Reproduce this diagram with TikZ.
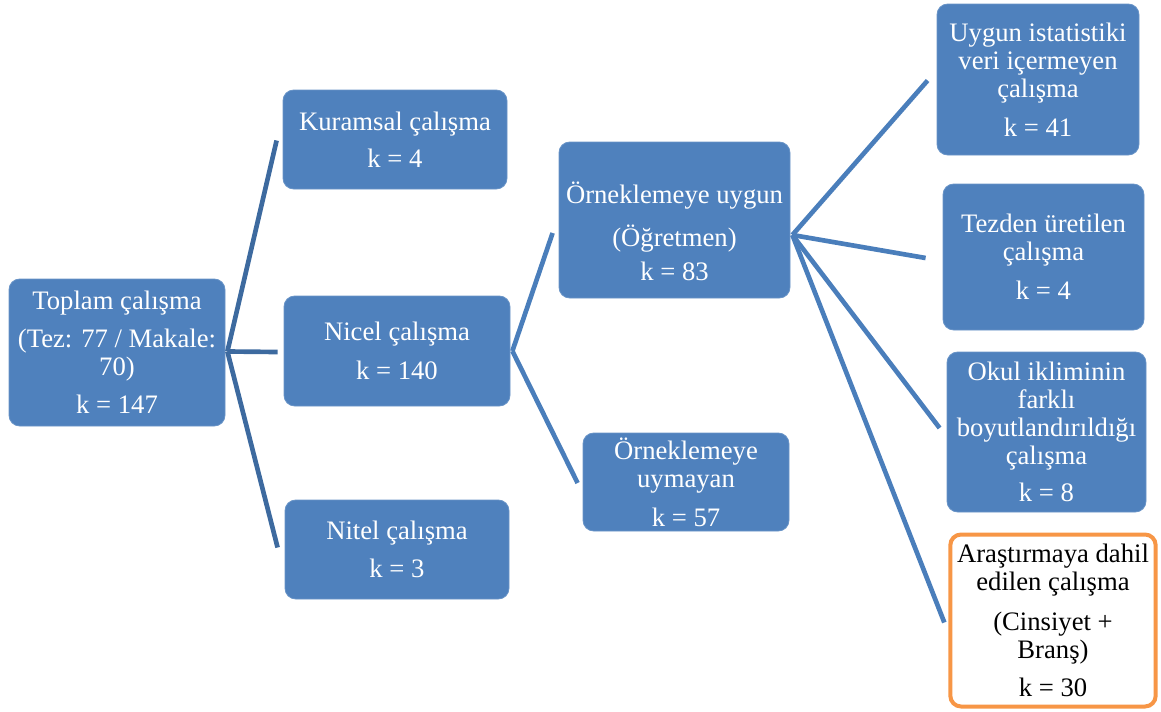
\documentclass[tikz,border=0pt]{standalone}
\usepackage{fontspec}
\setmainfont{Liberation Serif}
\usetikzlibrary{calc}
\definecolor{boxblue}{HTML}{4F81BD}
\definecolor{lineblue}{HTML}{4A7EBB}
\definecolor{darkline}{HTML}{3D6A9F}
\definecolor{orng}{HTML}{F79646}
\begin{document}
\begin{tikzpicture}[x=0.75pt,y=-0.75pt,
  box/.style={rectangle, rounded corners=8pt, fill=boxblue, draw=boxblue!85!white, line width=0.6pt,
    text=white, align=center, font=\fontsize{20}{21}\selectfont, inner sep=0pt},
  boxtext/.style={text=white, align=center, font=\fontsize{20}{21}\selectfont, inner sep=0pt},
  obox/.style={box, fill=white, draw=orng, line width=3pt, text=black},
  conn/.style={draw=lineblue, line width=3.5pt},
  dconn/.style={draw=darkline, line width=3.5pt}]
\useasboundingbox (0,0) rectangle (1161,711);

\node[box, minimum width=162pt, minimum height=110.25pt] (top) at (117,352.5)
  {Toplam çalışma\\[7.5pt](Tez: 77 / Makale:\\70)\\[7.5pt]k = 147};
\node[box, minimum width=168pt, minimum height=74.25pt] (kur) at (395,139.5)
  {Kuramsal çalışma\\[7pt]k = 4};
\node[box, minimum width=169.5pt, minimum height=82.5pt] (nic) at (397,351)
  {Nicel çalışma\\[8pt]k = 140};
\node[box, minimum width=168pt, minimum height=74.25pt] (nit) at (397,549.5)
  {Nitel çalışma\\[8pt]k = 3};
\node[box, minimum width=173.25pt, minimum height=117pt] (ou) at (674.5,220) {};
\node[boxtext] (outext) at ($(ou.center)+(0,11)$)
  {Örneklemeye uygun\\[11pt](Öğretmen)\\[4.5pt]k = 83};
\node[box, minimum width=154.5pt, minimum height=73.5pt] (oum) at (686,482)
  {Örneklemeye\\uymayan\\[8pt]k = 57};
\node[box, minimum width=151.5pt, minimum height=113.25pt] (ui) at (1038,79.5)
  {Uygun istatistiki\\veri içermeyen\\çalışma\\[8pt]k = 41};
\node[box, minimum width=150.75pt, minimum height=109.5pt] (tz) at (1043.5,257)
  {Tezden üretilen\\çalışma\\[8pt]k = 4};
\node[box, minimum width=149.25pt, minimum height=120pt] (ok) at (1046.5,432)
  {Okul ikliminin\\farklı\\boyutlandırıldığı\\çalışma\\[7pt]k = 8};
\node[obox, minimum width=154pt, minimum height=129pt] (ar) at (1053,620.5)
  {Araştırmaya dahil\\edilen çalışma\\[9pt](Cinsiyet +\\Branş)\\[7pt]k = 30};

% connectors from Toplam
\coordinate (tophub) at ($(top.east)+(2,-1)$);
\draw[dconn] (tophub) -- ($(kur.west)+(-6,1)$);
\draw[dconn] (tophub) -- ($(nic.west)+(-6,1)$);
\draw[dconn] (tophub) -- ($(nit.west)+(-7,-2)$);
% connectors from Nicel
\coordinate (nichub) at ($(nic.east)+(2,0)$);
\draw[conn] (nichub) -- ($(ou.west)+(-6,13)$);
\draw[conn] (nichub) -- ($(oum.west)+(-5,1)$);
% connectors from Orneklemeye uygun
\coordinate (ouhub) at ($(ou.east)+(2,15)$);
\draw[conn] (ouhub) -- ($(ui.west)+(-9,1)$);
\draw[conn] (ouhub) -- ($(tz.west)+(-17,1)$);
\draw[conn] (ouhub) -- ($(ok.west)+(-7,-4)$);
\draw[conn] (ouhub) -- ($(ar.west)+(-4,2)$);
\end{tikzpicture}
\end{document}
